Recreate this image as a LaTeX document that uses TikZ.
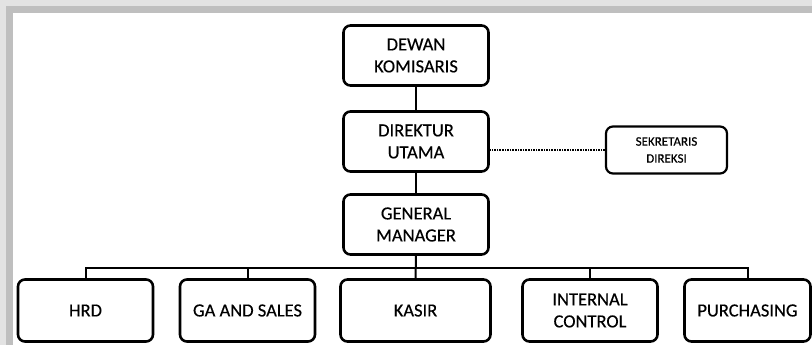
\documentclass[tikz,border=0pt]{standalone}
\usepackage{fontspec}
\setmainfont{Carlito}[FakeBold=0.35]
\begin{document}
\begin{tikzpicture}[x=1pt,y=-1pt,
  box/.style={draw=black,line width=2.6pt,rounded corners=7pt,fill=white,align=center,
    inner sep=0pt,font=\fontsize{18.5}{22}\selectfont},
  bigbox/.style={box,minimum width=145pt,minimum height=60pt},
  lowbox/.style={box,minimum width=135pt,minimum height=62pt},
  smallbox/.style={box,line width=2.2pt,minimum width=121pt,minimum height=47pt,
    font=\fontsize{13}{17}\selectfont},
  conn/.style={draw=black,line width=2pt},
  dotline/.style={draw=black,line width=1.6pt,densely dotted}]
\useasboundingbox (0,0) rectangle (812,345);
\fill[white] (0,0) rectangle (812,345);
% frame shadow
\fill[gray!22] (0,0) rectangle (812,13);
\fill[gray!22] (0,0) rectangle (13,345);
\fill[gray!50] (6,6) rectangle (812,13);
\fill[gray!50] (6,6) rectangle (13,345);
\fill[white] (13,13) rectangle (812,345);
% nodes
\node[bigbox] (dewan) at (416,55.5) {DEWAN\\KOMISARIS};
\node[bigbox] (dir) at (416,141.5) {DIREKTUR\\UTAMA};
\node[smallbox] (sek) at (666.5,150) {SEKRETARIS\\DIREKSI};
\node[bigbox] (gm) at (416,224.5) {GENERAL\\MANAGER};
\node[lowbox] (hrd) at (85.5,310.5) {HRD};
\node[lowbox] (ga) at (247.5,310.5) {GA AND SALES};
\node[lowbox,minimum width=150pt] (kasir) at (415.5,310.5) {KASIR};
\node[lowbox] (ic) at (590,310.5) {INTERNAL\\CONTROL};
\node[lowbox,minimum width=126pt] (pur) at (747.5,310.5) {PURCHASING};
\coordinate (bus) at (416,268);
% connectors
\draw[conn] (dewan.south) -- (dir.north);
\draw[conn] (dir.south) -- (gm.north);
\draw[dotline] (sek.west) -- (sek.west -| dir.east);
\draw[conn] (gm.south) -- (kasir.north);
\draw[conn] (bus) -| (hrd.north);
\draw[conn] (bus) -| (ga.north);
\draw[conn] (bus) -| (ic.north);
\draw[conn] (bus) -| (pur.north);
\end{tikzpicture}
\end{document}
